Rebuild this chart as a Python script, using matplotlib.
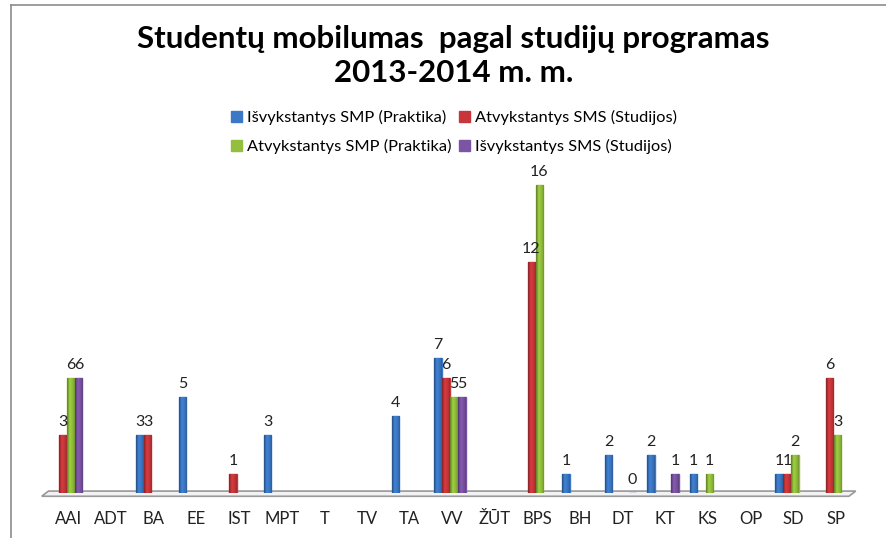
import numpy as np
import matplotlib.pyplot as plt
from matplotlib.patches import Polygon
from matplotlib.lines import Line2D
from matplotlib.colors import to_rgb

plt.rcParams['font.family'] = ['Lato', 'DejaVu Sans']

programos = ['AAI', 'ADT', 'BA', 'EE', 'IST', 'MPT', 'T', 'TV', 'TA', 'VV',
             'ŽŪT', 'BPS', 'BH', 'DT', 'KT', 'KS', 'OP', 'SD', 'SP']
n = np.nan
isv_smp = [n, n, 3, 5, n, 3, n, n, 4, 7, n, n, 1, 2, 2, 1, n, 1, n]
atv_sms = [3, n, 3, n, 1, n, n, n, n, 6, n, 12, n, n, n, n, n, 1, 6]
atv_smp = [6, n, n, n, n, n, n, n, n, 5, n, 16, n, n, n, 1, n, 2, 3]
isv_sms = [6, n, n, n, n, n, n, n, n, 5, n, n, n, 0, 1, n, n, n, n]

serijos = ['Išvykstantys SMP (Praktika)', 'Atvykstantys SMS (Studijos)',
           'Atvykstantys SMP (Praktika)', 'Išvykstantys SMS (Studijos)']
spalvos = ['#3b78c6', '#c7363a', '#92bf3c', '#7b54a4']
duomenys = [isv_smp, atv_sms, atv_smp, isv_sms]

W, H = 886, 538
fig = plt.figure(figsize=(W / 100, H / 100), dpi=100)

# remelis (matosi tik kaire ir virsus)
fig.add_artist(Line2D([11 / W, 11 / W], [0, 1 - 5 / H], color='#8c8c8c', lw=1.2))
fig.add_artist(Line2D([11 / W, 1], [1 - 5 / H, 1 - 5 / H], color='#8c8c8c', lw=1.2))

x0, x1 = 43, 857
ybase, vnt = 493, 19.25
ytop = ybase - 17 * vnt
ax = fig.add_axes([x0 / W, (H - ybase) / H, (x1 - x0) / W, (ybase - ytop) / H])
ax.axis('off')

def cilindras(bars, spalva):
    # svelnus cilindro seselis
    c = np.array(to_rgb(spalva))
    t = np.linspace(-1, 1, 24)
    k = 1.0 - 0.28 * np.abs(t - 0.1) ** 2 + 0.12 * np.exp(-((t + 0.3) / 0.3) ** 2)
    img = np.clip(c[None, :] * k[:, None], 0, 1)[None, :, :]
    for b in bars:
        bx, by = b.get_x(), b.get_y()
        bw, bh = b.get_width(), b.get_height()
        if bh <= 0:
            continue
        im = ax.imshow(img, extent=(bx, bx + bw, by, by + bh), aspect='auto',
                       interpolation='bilinear', zorder=3.5)
        im.set_clip_path(b)

x = np.arange(len(programos))
plotis = 0.188
for k, (vals, sp, pav) in enumerate(zip(duomenys, spalvos, serijos)):
    xs = x + (k - 1.5) * plotis
    v = np.array(vals, dtype=float)
    ok = ~np.isnan(v)
    bars = ax.bar(xs[ok], v[ok], width=plotis * 0.92, color=sp, edgecolor=sp,
                  linewidth=1.0, label=pav, zorder=3)
    cilindras(bars, sp)
    for xi, vi in zip(xs[ok], v[ok]):
        ax.text(xi, vi + 0.3, '%d' % vi, ha='center', va='bottom',
                fontsize=11.5, color='#222222', zorder=4)

ax.set_xlim(-0.55, len(programos) - 0.45)
ax.set_ylim(0, 17)

# grindys
grindys = Polygon([(-0.58, -0.17), (-0.42, 0.1), (18.52, 0.1), (18.36, -0.17)],
                  closed=True, facecolor='#f2f2f2', edgecolor='#999999',
                  linewidth=1.2, clip_on=False, zorder=2)
ax.add_patch(grindys)

for xi, p in zip(x, programos):
    ax.text(xi + 0.05, -1.35, p, ha='center', va='center', fontsize=12, color='#222222')

fig.text(0.512, 1 - 56 / H, 'Studentų mobilumas  pagal studijų programas\n2013-2014 m. m.',
         ha='center', va='center', fontsize=22.5, fontweight='bold', linespacing=1.25)

h, l = ax.get_legend_handles_labels()
eil = [0, 2, 1, 3]
fig.legend([h[i] for i in eil], [l[i] for i in eil], loc='center',
           bbox_to_anchor=(454 / W, 1 - 132 / H), ncol=2,
           frameon=False, fontsize=11.8, handlelength=0.65, handleheight=0.65,
           handletextpad=0.3, columnspacing=0.5, labelspacing=0.85)

fig.savefig('out.png', dpi=100)
